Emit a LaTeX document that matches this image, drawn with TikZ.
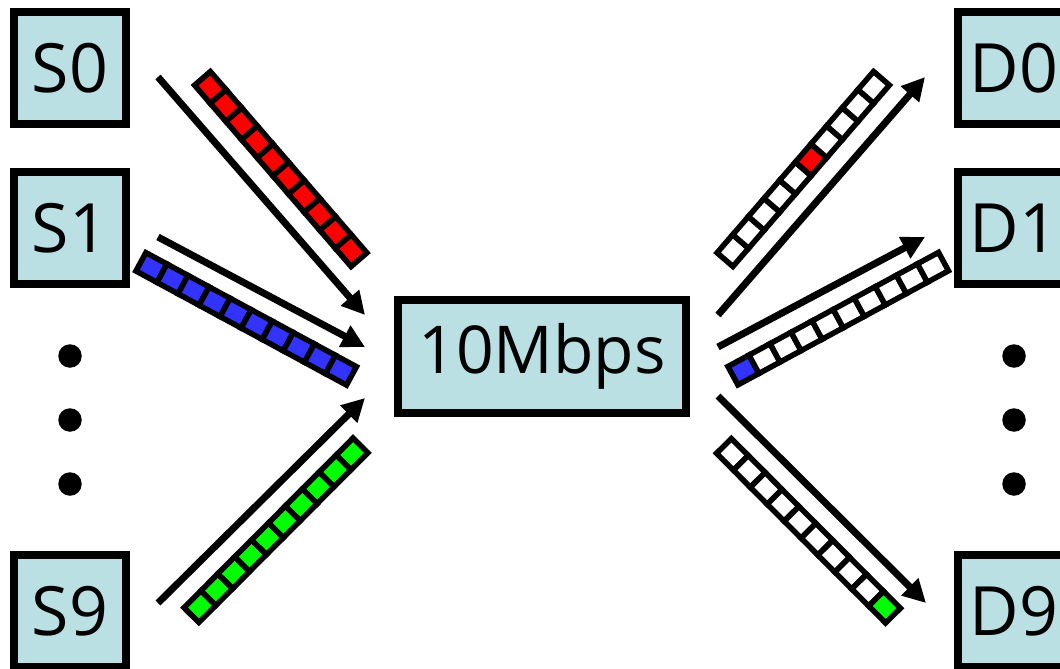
\documentclass[tikz,border=0pt]{standalone}
\usepackage{fontspec}
\setmainfont{Open Sans}
\usetikzlibrary{arrows.meta}

\definecolor{boxfill}{RGB}{186,224,227}
\definecolor{pktred}{RGB}{255,0,0}
\definecolor{pktblue}{RGB}{51,51,255}
\definecolor{pktgreen}{RGB}{0,255,0}

\tikzset{
  host/.style={draw, line width=8pt, fill=boxfill, minimum width=112pt,
    minimum height=112pt, inner sep=0pt, font=\fontsize{68}{80}\selectfont},
  link/.style={draw, line width=8pt, fill=boxfill, minimum width=288pt,
    minimum height=113pt, inner sep=0pt, font=\fontsize{66}{78}\selectfont},
  flow/.style={line width=7pt, -{Triangle[length=23pt,width=23pt]}},
  cell/.style={draw, line width=5.5pt, line join=miter},
  dot/.style={fill, circle, minimum size=23.5pt, inner sep=0pt},
}

% a row of ten packet slots: start point, angle, slot colour,
% index of the odd slot, colour of the odd slot
\newcommand\pktrow[5]{%
  \begin{scope}[shift={#1}, rotate=#2]
    \foreach \i in {0,...,9}{
      \ifnum\i=#4 \def\slotcol{#5}\else\def\slotcol{#3}\fi
      \draw[cell, fill=\slotcol] ({2.75+\i*23.95}, -10.45) rectangle ++(23.95, 20.9);
    }
  \end{scope}}

\begin{document}
\begin{tikzpicture}[x=1pt, y=-1pt]
  \useasboundingbox (0,0) rectangle (1060,669);
  \clip (0,0) rectangle (1060,669);

  % senders
  \node[host] (s0) at (70,68) {S0};
  \node[host] (s1) at (70,228) {S1};
  \node[host] (s9) at (70,611) {S9};
  \node[dot] (ls1) at (70,356) {};
  \node[dot] (ls2) at (70,420) {};
  \node[dot] (ls3) at (70,484) {};

  % receivers
  \node[host] (d0) at (1014,68) {D0};
  \node[host] (d1) at (1014,228) {D1};
  \node[host] (d9) at (1014,611) {D9};
  \node[dot] (rs1) at (1014,356) {};
  \node[dot] (rs2) at (1014,420) {};
  \node[dot] (rs3) at (1014,484) {};

  % shared link
  \node[link] (mid) at (542,356.5) {10Mbps};

  % arrow end points
  \coordinate (a0) at (158,77);   \coordinate (b0) at (365,315);
  \coordinate (a1) at (158,237);  \coordinate (b1) at (365,347);
  \coordinate (a9) at (158,603);  \coordinate (b9) at (365,398);
  \coordinate (c0) at (718,315);  \coordinate (e0) at (925,77);
  \coordinate (c1) at (718,347);  \coordinate (e1) at (925,237);
  \coordinate (c9) at (718,396);  \coordinate (e9) at (926,603);

  \draw[flow] (a0) -- (b0);
  \draw[flow] (a1) -- (b1);
  \draw[flow] (a9) -- (b9);
  \draw[flow] (c0) -- (e0);
  \draw[flow] (c1) -- (e1);
  \draw[flow] (c9) -- (e9);

  % incoming packet queues
  \pktrow{(200.7,76.3)}{-49.2}{pktred}{-1}{white}
  \pktrow{(138.5,260.5)}{-28.45}{pktblue}{-1}{white}
  \pktrow{(189.5,617)}{45.1}{pktgreen}{-1}{white}

  % outgoing slots
  \pktrow{(723.2,261.7)}{49.2}{white}{5}{pktred}
  \pktrow{(730.5,377)}{28.45}{white}{0}{pktblue}
  \pktrow{(722,444)}{-45.1}{white}{9}{pktgreen}
\end{tikzpicture}
\end{document}
